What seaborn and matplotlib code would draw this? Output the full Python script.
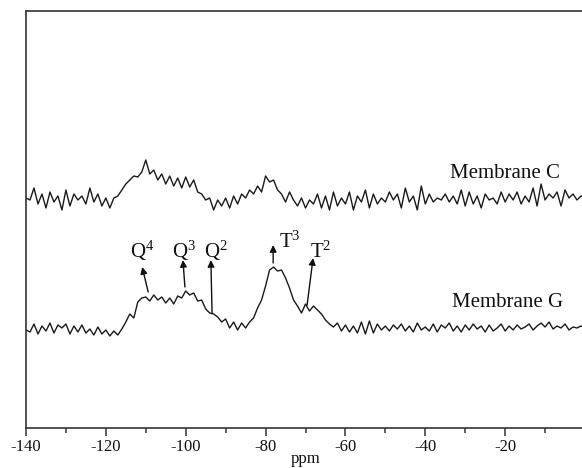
import numpy as np
import pandas as pd
import matplotlib
matplotlib.use("Agg")
import matplotlib.pyplot as plt
import seaborn as sns
from matplotlib.ticker import MultipleLocator

# ---- data (intensity in arbitrary units) ----
ppm = list(range(-140, 1))

membrane_g = [
    -2, -4, 4, -6, 2, -3, 5, -5, 3, 0,          # -140..-131
    4, -6, 2, -4, 3, -5, -1, -7, 1, -6,         # -130..-121
    -2, -8, -3, -7, -1, 6, 14, 10, 26, 30,      # -120..-111
    31, 27, 33, 28, 31, 25, 30, 24, 32, 30,     # -110..-101
    37, 33, 35, 27, 28, 19, 15, 14, 11, 6,      # -100..-91
    9, 0, 6, -2, 5, 0, 6, 10, 20, 28,           # -90..-81
    42, 58, 61, 57, 58, 50, 40, 28, 22, 15,     # -80..-71
    24, 17, 22, 18, 14, 8, 4, 1, 5, -3,         # -70..-61
    3, -4, 2, -5, 6, -6, 7, -5, 4, -2,          # -60..-51
    2, -3, 3, -1, 4, -3, 2, -4, 5, -2,          # -50..-41
    1, -3, 4, -4, 3, 0, 5, -3, 2, -4,           # -40..-31
    3, -2, 4, -1, 2, -4, 3, -3, 0, 4,           # -30..-21
    -3, 2, -2, 3, -1, 1, 4, -2, 2, 5,           # -20..-11
    1, 6, -1, 2, 0, 4, -2, 1, 0, 2,             # -10..-1
    0,                                          # 0
]

membrane_c = [
    130, 128, 140, 124, 134, 120, 136, 126, 132, 118,   # -140..-131
    138, 122, 134, 128, 132, 124, 140, 126, 134, 122,   # -130..-121
    130, 120, 130, 132, 138, 144, 148, 152, 151, 156,   # -120..-111
    168, 154, 158, 148, 154, 144, 152, 142, 150, 140,   # -110..-101
    151, 141, 148, 136, 134, 128, 130, 118, 128, 122,   # -100..-91
    130, 120, 132, 124, 134, 130, 138, 134, 142, 136,   # -90..-81
    152, 146, 148, 138, 134, 126, 136, 128, 122, 130,   # -80..-71
    120, 128, 124, 134, 120, 132, 118, 136, 122, 130,   # -70..-61
    124, 136, 118, 132, 126, 138, 120, 134, 124, 130,   # -60..-51
    126, 136, 128, 134, 120, 140, 126, 132, 118, 142,   # -50..-41
    124, 134, 126, 130, 128, 134, 126, 132, 124, 138,   # -40..-31
    122, 136, 124, 132, 120, 134, 128, 130, 124, 136,   # -30..-21
    126, 134, 128, 136, 124, 132, 126, 140, 122, 144,   # -20..-11
    128, 134, 130, 136, 122, 138, 130, 134, 128, 132,   # -10..-1
    130,                                                # 0
]

x_ticks = [-140, -120, -100, -80, -60, -40, -20, 0]

labels = ["Membrane C", "Membrane G"]
label_pos = [(-20.0, 150), (-19.3, 21)]

# annotation labels: (text, text x, text y, ha, arrow tail, arrow head)
ann_text = [r"$\mathregular{Q^4}$", r"$\mathregular{Q^3}$", r"$\mathregular{Q^2}$",
            r"$\mathregular{T^3}$", r"$\mathregular{T^2}$"]
ann_text_xy = [(-110.9, 70), (-100.4, 70), (-92.4, 70), (-76.6, 80), (-68.8, 70)]
ann_ha = ["center", "center", "center", "left", "left"]
ann_tail = [(-109.4, 36), (-100.2, 41), (-93.4, 15), (-78.1, 65), (-69.6, 23)]
ann_head = [(-110.9, 61), (-100.7, 68), (-93.7, 68), (-78.1, 83), (-68.1, 70)]

# ---- style ----
sns.set_theme(style="ticks")
plt.rcParams["font.family"] = ["Liberation Serif", "DejaVu Serif"]
plt.rcParams["mathtext.fontset"] = "custom"
plt.rcParams["mathtext.rm"] = "Liberation Serif"
plt.rcParams["axes.unicode_minus"] = False

df = pd.DataFrame({"ppm": ppm * 2,
                   "intensity": membrane_c + membrane_g,
                   "sample": ["C"] * len(ppm) + ["G"] * len(ppm)})

fig = plt.figure(figsize=(5.82, 4.68), dpi=100)
ax = fig.add_axes([26 / 582, 40 / 468, 559 / 582, 417 / 468])

sns.lineplot(data=df, x="ppm", y="intensity", units="sample", estimator=None,
             color="#1a1a1a", linewidth=1.0, ax=ax, legend=False)

ax.set_xlim(-140, 0)
ax.set_ylim(-100, 317)
ax.set_xticks(x_ticks)
ax.set_xticklabels([str(t) for t in x_ticks], fontsize=12)
ax.xaxis.set_minor_locator(MultipleLocator(10))
ax.tick_params(axis="x", which="major", direction="out", length=6, width=1.1,
               color="#333333", pad=2, labelcolor="#111111")
ax.tick_params(axis="x", which="minor", direction="out", length=3.5, width=1.1,
               color="#333333")
ax.set_yticks([])
ax.set_xlabel("ppm", fontsize=12, labelpad=-3, color="#111111")
ax.set_ylabel("")
for side in ["left", "bottom", "top", "right"]:
    ax.spines[side].set_linewidth(1.2)
    ax.spines[side].set_color("#333333")

for lab, (lx, ly) in zip(labels, label_pos):
    ax.text(lx, ly, lab, ha="center", va="baseline", fontsize=15, color="#111111")

for t, (tx, ty), ha, tail, head in zip(ann_text, ann_text_xy, ann_ha, ann_tail, ann_head):
    ax.text(tx, ty, t, ha=ha, va="baseline", fontsize=15, color="#111111")
    ax.annotate("", xy=head, xytext=tail,
                arrowprops=dict(arrowstyle="-|>", lw=1.0, color="#111111",
                                mutation_scale=10, shrinkA=0, shrinkB=0))

fig.savefig("out.png", dpi=100)
